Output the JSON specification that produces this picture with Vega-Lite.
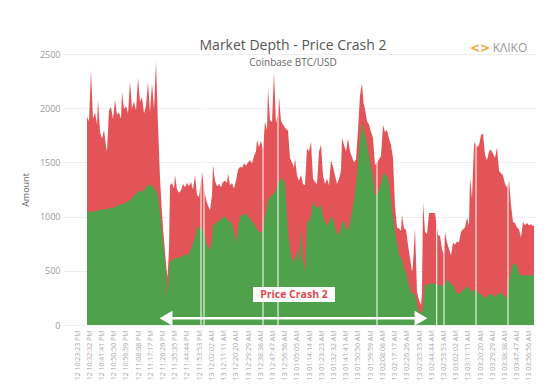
{
  "$schema": "https://vega.github.io/schema/vega-lite/v6.json",
  "width": 472,
  "height": 271,
  "autosize": "none",
  "padding": {"left": 63, "top": 54, "right": 19, "bottom": 62},
  "background": "white",
  "config": {"view": {"stroke": null}, "font": "Open Sans", "axisX": {"labelOverlap": false, "labelSeparation": 0, "labelFlush": false, "labelBound": false, "tickCount": 60}},
  "title": {
    "text": "Market Depth - Price Crash 2",
    "subtitle": "Coinbase BTC/USD",
    "anchor": "middle",
    "frame": "group",
    "dx": -6,
    "offset": -26,
    "fontSize": 14,
    "fontWeight": "normal",
    "color": "#555555",
    "subtitleFontSize": 10,
    "subtitleColor": "#666666",
    "subtitlePadding": 5,
    "font": "Open Sans",
    "subtitleFont": "Open Sans"
  },
  "datasets": {
    "depth": [
      {"t":10,"depth":1920,"bid":1045},{"t":12,"depth":1880,"bid":1045},{"t":14,"depth":2350,"bid":1045},{"t":16,"depth":1900,"bid":1050},
      {"t":18,"depth":1960,"bid":1050},{"t":20,"depth":1850,"bid":1055},{"t":21,"depth":2075,"bid":1055},{"t":23,"depth":1780,"bid":1060},
      {"t":25,"depth":1720,"bid":1065},{"t":27,"depth":1800,"bid":1065},{"t":29,"depth":1650,"bid":1070},{"t":30,"depth":1600,"bid":1070},
      {"t":32,"depth":1980,"bid":1075},{"t":34,"depth":2010,"bid":1080},{"t":36,"depth":1900,"bid":1080},{"t":38,"depth":2075,"bid":1090},
      {"t":40,"depth":1940,"bid":1100},{"t":42,"depth":1960,"bid":1110},{"t":44,"depth":1900,"bid":1110},{"t":45,"depth":2150,"bid":1115},
      {"t":47,"depth":1990,"bid":1120},{"t":49,"depth":2020,"bid":1130},{"t":51,"depth":1950,"bid":1140},{"t":53,"depth":2245,"bid":1150},
      {"t":55,"depth":2000,"bid":1170},{"t":57,"depth":2060,"bid":1190},{"t":59,"depth":1980,"bid":1210},{"t":61,"depth":2280,"bid":1230},
      {"t":63,"depth":2060,"bid":1240},{"t":65,"depth":2100,"bid":1230},{"t":67,"depth":1950,"bid":1240},{"t":69,"depth":2020,"bid":1270},
      {"t":71,"depth":2245,"bid":1290},{"t":73,"depth":1960,"bid":1290},{"t":75,"depth":2230,"bid":1290},{"t":77,"depth":1990,"bid":1260},
      {"t":79,"depth":2430,"bid":1240},{"t":81,"depth":1845,"bid":1180},{"t":83,"depth":1355,"bid":1045},{"t":84.5,"depth":1110,"bid":900},
      {"t":86,"depth":900,"bid":760},{"t":88,"depth":680,"bid":600},{"t":89.5,"depth":520,"bid":430},{"t":90.5,"depth":440,"bid":250},
      {"t":92,"depth":700,"bid":520},{"t":93,"depth":1290,"bid":584},{"t":95,"depth":1310,"bid":600},{"t":97,"depth":1260,"bid":610},
      {"t":98,"depth":1384,"bid":615},{"t":100,"depth":1250,"bid":615},{"t":102,"depth":1220,"bid":620},{"t":104,"depth":1240,"bid":630},
      {"t":106,"depth":1300,"bid":640},{"t":108,"depth":1270,"bid":640},{"t":110,"depth":1310,"bid":650},{"t":112,"depth":1280,"bid":660},
      {"t":114,"depth":1320,"bid":700},{"t":116,"depth":1250,"bid":756},{"t":118,"depth":1384,"bid":800},{"t":120,"depth":1200,"bid":900},
      {"t":122,"depth":1180,"bid":905},{"t":125,"depth":1414,"bid":890},{"t":127,"depth":1250,"bid":850},{"t":129,"depth":1160,"bid":756},
      {"t":131,"depth":1100,"bid":720},{"t":133,"depth":1060,"bid":692},{"t":135,"depth":1200,"bid":800},{"t":136,"depth":1476,"bid":940},
      {"t":138,"depth":1330,"bid":920},{"t":140,"depth":1280,"bid":950},{"t":142,"depth":1300,"bid":960},{"t":144,"depth":1270,"bid":980},
      {"t":146,"depth":1320,"bid":990},{"t":148,"depth":1330,"bid":1000},{"t":150,"depth":1310,"bid":980},{"t":151,"depth":1400,"bid":960},
      {"t":153,"depth":1290,"bid":950},{"t":155,"depth":1310,"bid":940},{"t":157,"depth":1260,"bid":850},{"t":159,"depth":1330,"bid":760},
      {"t":161,"depth":1430,"bid":900},{"t":163,"depth":1460,"bid":1000},{"t":165,"depth":1450,"bid":1010},{"t":167,"depth":1490,"bid":1020},
      {"t":169,"depth":1470,"bid":1030},{"t":171,"depth":1500,"bid":1000},{"t":173,"depth":1520,"bid":980},{"t":175,"depth":1490,"bid":950},
      {"t":177,"depth":1560,"bid":940},{"t":179,"depth":1600,"bid":900},{"t":180,"depth":1707,"bid":880},{"t":182,"depth":1640,"bid":860},
      {"t":184,"depth":1700,"bid":850},{"t":186,"depth":1620,"bid":880},{"t":188,"depth":1875,"bid":1000},{"t":190,"depth":1800,"bid":1090},
      {"t":191,"depth":2185,"bid":1150},{"t":193,"depth":1890,"bid":1180},{"t":195,"depth":1870,"bid":1200},{"t":197,"depth":2330,"bid":1215},
      {"t":199,"depth":1860,"bid":1240},{"t":201,"depth":1950,"bid":1300},{"t":202,"depth":2105,"bid":1320},{"t":204,"depth":1880,"bid":1355},
      {"t":206,"depth":1850,"bid":1340},{"t":208,"depth":1820,"bid":1300},{"t":210,"depth":1800,"bid":1000},{"t":211,"depth":1800,"bid":858},
      {"t":213,"depth":1540,"bid":700},{"t":215,"depth":1500,"bid":584},{"t":217,"depth":1450,"bid":620},{"t":218,"depth":1540,"bid":600},
      {"t":220,"depth":1380,"bid":700},{"t":222,"depth":1330,"bid":560},{"t":224,"depth":1384,"bid":893},{"t":226,"depth":1300,"bid":600},
      {"t":228,"depth":1290,"bid":490},{"t":230,"depth":1630,"bid":950},{"t":232,"depth":1600,"bid":960},{"t":234,"depth":1690,"bid":1000},
      {"t":236,"depth":1350,"bid":1130},{"t":238,"depth":1320,"bid":1100},{"t":240,"depth":1300,"bid":1080},{"t":242,"depth":1600,"bid":1090},
      {"t":244,"depth":1660,"bid":1110},{"t":246,"depth":1380,"bid":1000},{"t":248,"depth":1300,"bid":950},{"t":250,"depth":1350,"bid":920},
      {"t":252,"depth":1290,"bid":940},{"t":254,"depth":1520,"bid":1000},{"t":256,"depth":1460,"bid":980},{"t":258,"depth":1380,"bid":900},
      {"t":260,"depth":1300,"bid":850},{"t":262,"depth":1350,"bid":830},{"t":264,"depth":1420,"bid":900},{"t":265,"depth":1725,"bid":960},
      {"t":267,"depth":1660,"bid":950},{"t":269,"depth":1600,"bid":900},{"t":271,"depth":1720,"bid":870},{"t":273,"depth":1600,"bid":950},
      {"t":275,"depth":1550,"bid":1050},{"t":277,"depth":1500,"bid":1150},{"t":279,"depth":1530,"bid":1300},{"t":281,"depth":1800,"bid":1500},
      {"t":283,"depth":2120,"bid":1700},{"t":285,"depth":2230,"bid":1870},{"t":286.5,"depth":2050,"bid":1800},{"t":288,"depth":1990,"bid":1750},
      {"t":290,"depth":1880,"bid":1660},{"t":292,"depth":1850,"bid":1560},{"t":294,"depth":1780,"bid":1450},{"t":296,"depth":1725,"bid":1355},
      {"t":298,"depth":1476,"bid":1200},{"t":300,"depth":1500,"bid":1200},{"t":302,"depth":1530,"bid":1250},{"t":304,"depth":1560,"bid":1300},
      {"t":306,"depth":1845,"bid":1385},{"t":308,"depth":1780,"bid":1390},{"t":310,"depth":1800,"bid":1370},{"t":312,"depth":1720,"bid":1300},
      {"t":314,"depth":1660,"bid":1150},{"t":316,"depth":1540,"bid":1000},{"t":318,"depth":1100,"bid":850},{"t":320,"depth":900,"bid":760},
      {"t":322,"depth":890,"bid":650},{"t":324,"depth":870,"bid":615},{"t":325,"depth":1015,"bid":600},{"t":327,"depth":890,"bid":520},
      {"t":329,"depth":880,"bid":490},{"t":331,"depth":740,"bid":400},{"t":333,"depth":620,"bid":340},{"t":335,"depth":490,"bid":280},
      {"t":336,"depth":560,"bid":300},{"t":338,"depth":893,"bid":280},{"t":340,"depth":305,"bid":185},{"t":342,"depth":230,"bid":120},
      {"t":344,"depth":185,"bid":110},{"t":345,"depth":300,"bid":120},{"t":346,"depth":1130,"bid":150},{"t":348,"depth":860,"bid":370},
      {"t":350,"depth":840,"bid":370},{"t":352,"depth":1033,"bid":380},{"t":354,"depth":1033,"bid":380},{"t":356,"depth":1033,"bid":380},
      {"t":358,"depth":1033,"bid":380},{"t":361,"depth":830,"bid":370},{"t":363,"depth":820,"bid":370},{"t":365,"depth":700,"bid":360},
      {"t":366.5,"depth":650,"bid":360},{"t":368,"depth":860,"bid":380},{"t":370,"depth":760,"bid":415},{"t":372,"depth":700,"bid":400},
      {"t":374,"depth":640,"bid":380},{"t":376,"depth":760,"bid":370},{"t":378,"depth":740,"bid":330},{"t":380,"depth":770,"bid":300},
      {"t":382,"depth":760,"bid":280},{"t":384,"depth":860,"bid":300},{"t":386,"depth":880,"bid":320},{"t":388,"depth":900,"bid":340},
      {"t":390,"depth":990,"bid":360},{"t":392,"depth":920,"bid":340},{"t":393,"depth":1355,"bid":330},{"t":395,"depth":1170,"bid":300},
      {"t":397,"depth":1660,"bid":320},{"t":398,"depth":1690,"bid":330},{"t":400,"depth":1640,"bid":310},{"t":402,"depth":1660,"bid":290},
      {"t":404,"depth":1750,"bid":280},{"t":406,"depth":1770,"bid":270},{"t":408,"depth":1570,"bid":250},{"t":410,"depth":1520,"bid":260},
      {"t":412,"depth":1600,"bid":280},{"t":414,"depth":1620,"bid":290},{"t":416,"depth":1580,"bid":270},{"t":418,"depth":1540,"bid":260},
      {"t":420,"depth":1640,"bid":280},{"t":422,"depth":1420,"bid":290},{"t":424,"depth":1400,"bid":300},{"t":426,"depth":1380,"bid":280},
      {"t":428,"depth":1300,"bid":260},{"t":430,"depth":1265,"bid":250},{"t":432,"depth":1330,"bid":415},{"t":434,"depth":1110,"bid":490},
      {"t":436,"depth":950,"bid":565},{"t":438,"depth":940,"bid":560},{"t":440,"depth":900,"bid":550},{"t":442,"depth":880,"bid":470},
      {"t":444,"depth":810,"bid":460},{"t":446,"depth":950,"bid":460},{"t":448,"depth":920,"bid":460},{"t":450,"depth":940,"bid":460},
      {"t":452,"depth":920,"bid":460},{"t":454,"depth":930,"bid":460},{"t":456,"depth":910,"bid":460},{"t":457,"depth":920,"bid":460}
    ],
    "gaps": [
      {"t":124},{"t":127},{"t":186},{"t":201},{"t":300},{"t":359.7},{"t":367},{"t":399},{"t":431}
    ]
  },
  "layer": [
    {
      "data": {"name": "depth"},
      "mark": {"type": "area", "color": "#e25458", "interpolate": "linear"},
      "encoding": {
        "x": {
          "field": "t", "type": "quantitative",
          "scale": {"domain": [-14, 458], "nice": false, "zero": false},
          "axis": {
            "title": null, "grid": false, "ticks": false, "domain": false, "tickCount": 60,
            "labelAngle": 270, "labelFontSize": 7, "labelColor": "#aaaaaa", "labelPadding": 5,
            "labelOverlap": false, "labelSeparation": 0, "labelFlush": false, "labelBound": false,
            "values": [0,12.216,24.432,36.648,48.864,61.08,73.296,85.512,97.728,109.944,122.16,134.376,146.592,158.808,171.024,183.24,195.456,207.672,219.888,232.104,244.32,256.536,268.752,280.968,293.184,305.4,317.616,329.832,342.048,354.264,366.48,378.696,390.912,403.128,415.344,427.56,439.776,451.992],
            "labelExpr": "['12 10:23:23 PM','12 10:32:32 PM','12 10:41:41 PM','12 10:50:50 PM','12 10:59:59 PM','12 11:08:08 PM','12 11:17:17 PM','12 11:26:26 PM','12 11:35:35 PM','12 11:44:44 PM','12 11:53:53 PM','13 12:02:02 AM','13 12:11:11 AM','13 12:20:20 AM','13 12:29:29 AM','13 12:38:38 AM','13 12:47:47 AM','13 12:56:56 AM','13 01:05:05 AM','13 01:14:14 AM','13 01:23:23 AM','13 01:32:32 AM','13 01:41:41 AM','13 01:50:50 AM','13 01:59:59 AM','13 02:08:08 AM','13 02:17:17 AM','13 02:26:26 AM','13 02:35:35 AM','13 02:44:44 AM','13 02:53:53 AM','13 03:02:02 AM','13 03:11:11 AM','13 03:20:20 AM','13 03:29:29 AM','13 03:38:38 AM','13 03:47:47 AM','13 03:56:56 AM'][round(datum.value / 12.216)]"
          }
        },
        "y": {
          "field": "depth", "type": "quantitative",
          "scale": {"domain": [0, 2500], "nice": false},
          "axis": {
            "title": "Amount", "titleFontSize": 9, "titleFontWeight": "normal", "titleColor": "#666666", "titlePadding": 9,
            "labelColor": "#999999", "labelFontSize": 9, "labelPadding": 3, "format": "d",
            "ticks": false, "domain": false, "gridColor": "#eeeeee",
            "values": [0, 500, 1000, 1500, 2000, 2500]
          }
        }
      }
    },
    {
      "data": {"name": "depth"},
      "mark": {"type": "area", "color": "#50a14c", "interpolate": "linear"},
      "encoding": {
        "x": {"field": "t", "type": "quantitative"},
        "y": {"field": "bid", "type": "quantitative"}
      }
    },
    {
      "data": {"name": "gaps"},
      "mark": {"type": "rule", "color": "white", "strokeWidth": 1},
      "encoding": {
        "x": {"field": "t", "type": "quantitative"},
        "y": {"datum": 0},
        "y2": {"datum": 2500}
      }
    },
    {
      "data": {"values": [{}]},
      "mark": {"type": "rule", "color": "white", "strokeWidth": 2.5},
      "encoding": {
        "x": {"datum": 86},
        "x2": {"datum": 346},
        "y": {"datum": 62}
      }
    },
    {
      "data": {"values": [{}]},
      "mark": {"type": "point", "shape": "triangle-left", "filled": true, "color": "white", "opacity": 1, "size": 220},
      "encoding": {
        "x": {"datum": 89},
        "y": {"datum": 62}
      }
    },
    {
      "data": {"values": [{}]},
      "mark": {"type": "point", "shape": "triangle-right", "filled": true, "color": "white", "opacity": 1, "size": 220},
      "encoding": {
        "x": {"datum": 344},
        "y": {"datum": 62}
      }
    },
    {
      "data": {"values": [{}]},
      "mark": {"type": "rect", "color": "white"},
      "encoding": {
        "x": {"datum": 176},
        "x2": {"datum": 258},
        "y": {"datum": 212},
        "y2": {"datum": 350}
      }
    },
    {
      "data": {"values": [{}]},
      "mark": {"type": "text", "text": "Price Crash 2", "color": "#e0474f", "fontWeight": "bold", "fontSize": 10.5, "align": "center", "baseline": "middle", "font": "Open Sans"},
      "encoding": {
        "x": {"datum": 217},
        "y": {"datum": 280}
      }
    },
    {
      "data": {"values": [{}]},
      "mark": {"type": "text", "text": "<>", "color": "#f0a534", "fontWeight": "bold", "fontSize": 12, "align": "center", "baseline": "middle", "font": "DejaVu Sans"},
      "encoding": {
        "x": {"datum": 403},
        "y": {"datum": 2555}
      }
    },
    {
      "data": {"values": [{}]},
      "mark": {"type": "text", "text": "KΛIKO", "color": "#999999", "fontSize": 12, "align": "center", "baseline": "middle", "font": "Open Sans"},
      "encoding": {
        "x": {"datum": 433},
        "y": {"datum": 2555}
      }
    }
  ]
}
